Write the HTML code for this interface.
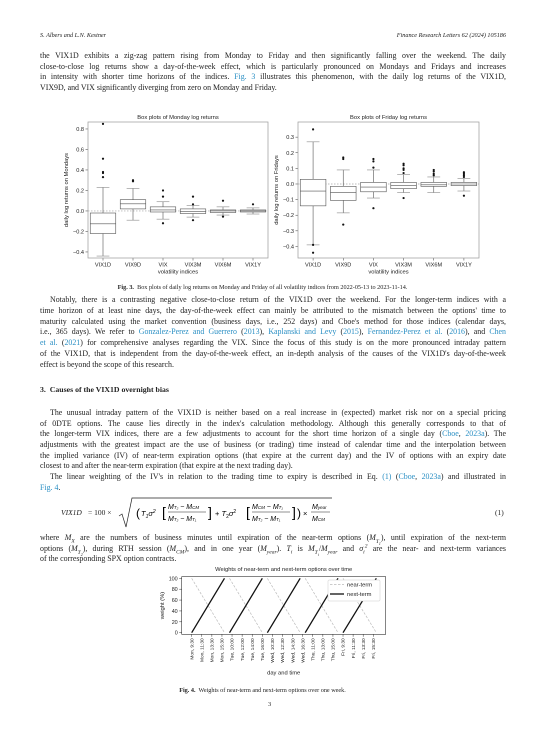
<!DOCTYPE html>
<html><head><meta charset="utf-8">
<style>
html,body{margin:0;padding:0;background:#fff;}
body{width:545px;height:743px;position:relative;overflow:hidden;font-family:"Liberation Serif",serif;color:#222;}
.ln{position:absolute;left:40px;width:466px;font-size:7.9px;line-height:10px;height:10px;white-space:nowrap;}
.j{text-align:justify;text-align-last:justify;white-space:normal;}
.ind{left:50px;width:456px;}
a{color:#2a8fc4;text-decoration:none;}
.hdr{position:absolute;top:32px;font-size:6.2px;font-style:italic;}
.cap{position:absolute;left:0;width:525px;text-align:center;font-size:6.2px;}
.it{font-style:italic;}
sub,sup{font-size:70%;line-height:0;}
svg text{font-family:"Liberation Sans","DejaVu Sans",sans-serif;}
</style></head><body>
<div class="hdr" style="left:40px">S. Albers and L.N. Kestner</div>
<div class="hdr" style="right:39px">Finance Research Letters 62 (2024) 105186</div>

<div>
<div class="ln j" style="top:51px">the VIX1D exhibits a zig-zag pattern rising from Monday to Friday and then significantly falling over the weekend. The daily</div>
<div class="ln j" style="top:62px">close-to-close log returns show a day-of-the-week effect, which is particularly pronounced on Mondays and Fridays and increases</div>
<div class="ln j" style="top:72px">in intensity with shorter time horizons of the indices. <a>Fig. 3</a> illustrates this phenomenon, with the daily log returns of the VIX1D,</div>
<div class="ln" style="top:83px">VIX9D, and VIX significantly diverging from zero on Monday and Friday.</div>
</div>

<svg id="charts" width="545" height="743" style="position:absolute;left:0;top:0"></svg>

<div class="cap" style="top:284px;left:0"><b>Fig. 3.</b>&nbsp; Box plots of daily log returns on Monday and Friday of all volatility indices from 2022-05-13 to 2023-11-14.</div>

<div>
<div class="ln j ind" style="top:295px">Notably, there is a contrasting negative close-to-close return of the VIX1D over the weekend. For the longer-term indices with a</div>
<div class="ln j" style="top:306px">time horizon of at least nine days, the day-of-the-week effect can mainly be attributed to the mismatch between the options' time to</div>
<div class="ln j" style="top:317px">maturity calculated using the market convention (business days, i.e., 252 days) and Cboe's method for those indices (calendar days,</div>
<div class="ln j" style="top:327px">i.e., 365 days). We refer to <a>Gonzalez-Perez and Guerrero</a> (<a>2013</a>), <a>Kaplanski and Levy</a> (<a>2015</a>), <a>Fernandez-Perez et al.</a> (<a>2016</a>), and <a>Chen</a></div>
<div class="ln j" style="top:338px"><a>et al.</a> (<a>2021</a>) for comprehensive analyses regarding the VIX. Since the focus of this study is on the more pronounced intraday pattern</div>
<div class="ln j" style="top:349px">of the VIX1D, that is independent from the day-of-the-week effect, an in-depth analysis of the causes of the VIX1D's day-of-the-week</div>
<div class="ln" style="top:360px">effect is beyond the scope of this research.</div>
</div>

<div class="ln" style="top:385px;font-weight:bold;font-size:7.8px">3.&nbsp; Causes of the VIX1D overnight bias</div>

<div>
<div class="ln j ind" style="top:408px">The unusual intraday pattern of the VIX1D is neither based on a real increase in (expected) market risk nor on a special pricing</div>
<div class="ln j" style="top:419px">of 0DTE options. The cause lies directly in the index's calculation methodology. Although this generally corresponds to that of</div>
<div class="ln j" style="top:429px">the longer-term VIX indices, there are a few adjustments to account for the short time horizon of a single day (<a>Cboe</a>, <a>2023a</a>). The</div>
<div class="ln j" style="top:440px">adjustments with the greatest impact are the use of business (or trading) time instead of calendar time and the interpolation between</div>
<div class="ln j" style="top:451px">the implied variance (IV) of near-term expiration options (that expire at the current day) and the IV of options with an expiry date</div>
<div class="ln" style="top:461px">closest to and after the near-term expiration (that expire at the next trading day).</div>
<div class="ln j ind" style="top:472px">The linear weighting of the IV's in relation to the trading time to expiry is described in Eq. <a>(1)</a> (<a>Cboe</a>, <a>2023a</a>) and illustrated in</div>
<div class="ln" style="top:483px"><a>Fig. 4</a>.</div>
</div>

<div style="position:absolute;left:0;top:496px;width:545px;height:34px;font-size:7.5px;">
  <span class="it" style="position:absolute;left:61px;top:12px">VIX1D</span>
  <span style="position:absolute;left:88px;top:12px">= 100 ×</span>
  <svg style="position:absolute;left:118px;top:0" width="216" height="34">
    <path d="M1 20 L4 18 L8 31 L14 2 L214 2" fill="none" stroke="#222" stroke-width="0.7"/>
    <text x="18" y="21" font-size="12" font-family="Liberation Serif">(</text>
    <text x="23" y="20" font-size="7.5" font-family="Liberation Serif" font-style="italic">T<tspan font-size="5" dy="2">1</tspan><tspan dy="-2">σ</tspan><tspan font-size="5" dy="-3">2</tspan></text>
    <text x="44" y="21" font-size="14" font-family="Liberation Serif">[</text>
    <text x="50" y="13" font-size="7" font-family="Liberation Serif" font-style="italic">M<tspan font-size="4.5">T₂</tspan> − M<tspan font-size="4.5">CM</tspan></text>
    <line x1="50" y1="16" x2="88" y2="16" stroke="#222" stroke-width="0.5"/>
    <text x="50" y="25" font-size="7" font-family="Liberation Serif" font-style="italic">M<tspan font-size="4.5">T₂</tspan> − M<tspan font-size="4.5">T₁</tspan></text>
    <text x="90" y="21" font-size="14" font-family="Liberation Serif">]</text>
    <text x="97" y="20" font-size="7.5" font-family="Liberation Serif">+ <tspan font-style="italic">T</tspan><tspan font-size="5" dy="2">2</tspan><tspan dy="-2" font-style="italic">σ</tspan><tspan font-size="5" dy="-3">2</tspan></text>
    <text x="128" y="21" font-size="14" font-family="Liberation Serif">[</text>
    <text x="134" y="13" font-size="7" font-family="Liberation Serif" font-style="italic">M<tspan font-size="4.5">CM</tspan> − M<tspan font-size="4.5">T₁</tspan></text>
    <line x1="134" y1="16" x2="172" y2="16" stroke="#222" stroke-width="0.5"/>
    <text x="134" y="25" font-size="7" font-family="Liberation Serif" font-style="italic">M<tspan font-size="4.5">T₂</tspan> − M<tspan font-size="4.5">T₁</tspan></text>
    <text x="174" y="21" font-size="14" font-family="Liberation Serif">]</text>
    <text x="179" y="21" font-size="12" font-family="Liberation Serif">)</text>
    <text x="185" y="20" font-size="7.5" font-family="Liberation Serif">×</text>
    <text x="194" y="13" font-size="7" font-family="Liberation Serif" font-style="italic">M<tspan font-size="4.5">year</tspan></text>
    <line x1="193" y1="16" x2="212" y2="16" stroke="#222" stroke-width="0.5"/>
    <text x="194" y="25" font-size="7" font-family="Liberation Serif" font-style="italic">M<tspan font-size="4.5">CM</tspan></text>
  </svg>
  <span style="position:absolute;left:495px;top:12px">(1)</span>
</div>

<div>
<div class="ln j" style="top:533px">where <i>M<sub>X</sub></i> are the numbers of business minutes until expiration of the near-term options (<i>M<sub>T<sub>1</sub></sub></i>), until expiration of the next-term</div>
<div class="ln j" style="top:544px">options (<i>M<sub>T<sub>2</sub></sub></i>), during RTH session (<i>M<sub>CM</sub></i>), and in one year (<i>M<sub>year</sub></i>). <i>T<sub>i</sub></i> is <i>M<sub>T<sub>i</sub></sub></i>/<i>M<sub>year</sub></i> and <i>σ<sub>i</sub><sup>2</sup></i> are the near- and next-term variances</div>
<div class="ln" style="top:554px">of the corresponding SPX option contracts.</div>
</div>

<div class="cap" style="top:687px"><b>Fig. 4.</b>&nbsp; Weights of near-term and next-term options over one week.</div>
<div style="position:absolute;left:268px;top:701px;font-size:6.5px">3</div>

<script>
// ---- Box plot data ----
const categories = ["VIX1D","VIX9D","VIX","VIX3M","VIX6M","VIX1Y"];
const monLow  = [-0.44,-0.09,-0.08,-0.06,-0.04,-0.03];
const monQ1   = [-0.22, 0.02,-0.01,-0.025,-0.015,-0.01];
const monMed  = [-0.125,0.07,0.01,-0.005,0.0,0.0];
const monQ3   = [-0.02, 0.11, 0.04, 0.02, 0.01, 0.01];
const monHigh = [0.23, 0.22, 0.09, 0.055, 0.04, 0.03];
const monOut  = [[0.33,0.37,0.38,0.51,0.85],[0.29,0.30],[0.14,0.20,-0.12],[0.065,0.14,-0.09],[0.10,-0.055],[0.065]];
const monTicks = [-0.4,-0.2,0.0,0.2,0.4,0.6,0.8];

const friLow  = [-0.39,-0.185,-0.09,-0.055,-0.055,-0.045];
const friQ1   = [-0.14,-0.105,-0.05,-0.03,-0.015,-0.01];
const friMed  = [-0.045,-0.055,-0.02,-0.01,-0.005,0.0];
const friQ3   = [0.03,-0.015,0.01,0.01,0.01,0.01];
const friHigh = [0.27,0.09,0.09,0.06,0.045,0.035];
const friOut  = [[0.35,-0.39,-0.44],[0.16,0.17,-0.26],[0.105,0.145,0.16,-0.155],[0.07,0.09,0.10,0.12,0.13,-0.09],[0.055,0.065,0.08,0.09],[0.045,0.055,0.065,0.075,-0.075]];
const friTicks = [-0.4,-0.3,-0.2,-0.1,0.0,0.1,0.2,0.3];

// ---- Weights data ----
const timeLabels = ["Mon, 9:30","Mon, 11:30","Mon, 13:30","Mon, 15:30","Tue, 10:00","Tue, 12:00","Tue, 14:00","Tue, 16:00","Wed, 10:30","Wed, 12:30","Wed, 14:30","Wed, 16:30","Thu, 11:00","Thu, 13:00","Thu, 15:00","Fri, 9:30","Fri, 11:30","Fri, 13:30","Fri, 15:30"];
const dayStart = [0,3.75,7.5,11.25,15.0];
const dayEnd   = [3.25,7.0,10.75,14.5,18.3];
const nearStartW = [100,100,100,100,100];
const nearEndW   = [0,0,0,0,0];
const nextStartW = [0,0,0,0,0];
const nextEndW   = [100,100,100,100,100];
const weightTicks = [0,20,40,60,80,100];

const NS="http://www.w3.org/2000/svg";
const svg=document.getElementById('charts');
function mk(tag,attrs,parent){const e=document.createElementNS(NS,tag);for(const k in attrs)e.setAttribute(k,attrs[k]);(parent||svg).appendChild(e);return e;}
function txt(s,attrs,parent){const e=mk('text',attrs,parent);e.textContent=s;return e;}

function boxChart(o){
  const g=mk('g',{});
  
  
  const L=o.x0,R=o.x1,T=o.y0,B=o.y1;
  const y=v=>B-(v-o.ymin)/(o.ymax-o.ymin)*(B-T);
  const step=(R-L)/categories.length;
  const x=i=>L+step*(i+0.5);
  const bw=step*0.85;
  const zl=mk('line',{x1:L,x2:R,y1:y(0),y2:y(0),stroke:'#bbb','stroke-width':0.9,'stroke-dasharray':'1.5,1.5'},g);
  
  
  o.ticks.forEach(t=>{
    mk('line',{x1:L-2.5,x2:L,y1:y(t),y2:y(t),stroke:'#333','stroke-width':0.5},g);
    const tl=txt((t<0?'\u2212':'')+Math.abs(t).toFixed(1),{x:L-4,y:y(t)+2,'font-size':5.6,'text-anchor':'end',fill:'#222'},g);
    
    
  });
  categories.forEach((c,i)=>{
    const cx=x(i);
    const bg=mk('g',{},g);
    
    
    const st={stroke:'#555','stroke-width':0.6,fill:'none'};
    mk('line',Object.assign({x1:cx,x2:cx,y1:y(o.low[i]),y2:y(o.q1[i])},st),bg);
    mk('line',Object.assign({x1:cx,x2:cx,y1:y(o.q3[i]),y2:y(o.high[i])},st),bg);
    mk('line',Object.assign({x1:cx-bw/4,x2:cx+bw/4,y1:y(o.low[i]),y2:y(o.low[i])},st,{stroke:'#888'}),bg);
    mk('line',Object.assign({x1:cx-bw/4,x2:cx+bw/4,y1:y(o.high[i]),y2:y(o.high[i])},st,{stroke:'#888'}),bg);
    mk('rect',{x:cx-bw/2,y:y(o.q3[i]),width:bw,height:Math.max(0.5,y(o.q1[i])-y(o.q3[i])),fill:'#fff',stroke:'#555','stroke-width':0.6},bg);
    mk('line',Object.assign({x1:cx-bw/2,x2:cx+bw/2,y1:y(o.med[i]),y2:y(o.med[i])},st),bg);
    o.out[i].forEach(v=>mk('circle',{cx:cx,cy:y(v),r:1.1,fill:'#111'},bg));
    mk('line',{x1:cx,x2:cx,y1:B,y2:B+2.5,stroke:'#333','stroke-width':0.5},g);
    const xl=txt(c,{x:cx,y:B+8.5,'font-size':5.6,'text-anchor':'middle',fill:'#222'},g);
    
    
  });
  const fr=mk('rect',{x:L,y:T,width:R-L,height:B-T,fill:'none',stroke:'#999','stroke-width':0.7},g);
  
  
  const tt=txt(o.title,{x:(L+R)/2,y:T-3,'font-size':5.8,'text-anchor':'middle',fill:'#222'},g);
  
  
  const xt=txt('volatility indices',{x:(L+R)/2,y:B+15.5,'font-size':5.8,'text-anchor':'middle',fill:'#222'},g);
  
  
  const yt=txt(o.ylabel,{x:0,y:0,'font-size':5.8,'text-anchor':'middle',fill:'#222',transform:`translate(${o.ylx},${(T+B)/2}) rotate(-90)`},g);
  
  
}
boxChart({name:'monday-boxplot',x0:88,x1:268,y0:122,y1:258,ymin:-0.459,ymax:0.868,ticks:monTicks,low:monLow,q1:monQ1,med:monMed,q3:monQ3,high:monHigh,out:monOut,title:'Box plots of Monday log returns',ylabel:'daily log returns on Mondays',ylx:68});
boxChart({name:'friday-boxplot',x0:298,x1:479,y0:122,y1:258,ymin:-0.474,ymax:0.397,ticks:friTicks,low:friLow,q1:friQ1,med:friMed,q3:friQ3,high:friHigh,out:friOut,title:'Box plots of Friday log returns',ylabel:'daily log returns on Fridays',ylx:278});

// ---- Weights chart ----
(function(){
  const g=mk('g',{});
  
  
  const L=181.7,R=385.7,T=576.7,B=634.3;
  const xmin=-0.99,xmax=19.23,ymin=-3.0,ymax=103.0;
  const x=v=>L+(v-xmin)/(xmax-xmin)*(R-L);
  const y=v=>B-(v-ymin)/(ymax-ymin)*(B-T);
  weightTicks.forEach(t=>{
    mk('line',{x1:L-2.5,x2:L,y1:y(t),y2:y(t),stroke:'#333','stroke-width':0.5},g);
    const tl=txt(String(t),{x:L-4,y:y(t)+2,'font-size':5.4,'text-anchor':'end',fill:'#222'},g);
    
    
  });
  timeLabels.forEach((s,i)=>{
    mk('line',{x1:x(i),x2:x(i),y1:B,y2:B+2.5,stroke:'#333','stroke-width':0.5},g);
    const tl=txt(s,{x:0,y:0,'font-size':4.8,'text-anchor':'end',fill:'#222',transform:`translate(${x(i)+1.7},${B+4}) rotate(-90)`},g);
    
    
  });
  dayStart.forEach((d,i)=>{
    const n=mk('line',{x1:x(d),y1:y(nearStartW[i]),x2:x(dayEnd[i]),y2:y(nearEndW[i]),stroke:'#bbb','stroke-width':0.7,'stroke-dasharray':'2.5,1.5'},g);
    
    
    const m=mk('line',{x1:x(d),y1:y(nextStartW[i]),x2:x(dayEnd[i]),y2:y(nextEndW[i]),stroke:'#111','stroke-width':1.3},g);
    
    
  });
  mk('rect',{x:L,y:T,width:R-L,height:B-T,fill:'none',stroke:'#333','stroke-width':0.6},g);
  const lg=mk('g',{},g);
  
  
  mk('rect',{x:328,y:580,width:52,height:21,fill:'#fff',stroke:'#ccc','stroke-width':0.5,rx:1},lg);
  mk('line',{x1:330,x2:344,y1:584.5,y2:584.5,stroke:'#bbb','stroke-width':0.7,'stroke-dasharray':'2.5,1.5'},lg);
  txt('near-term',{x:347,y:586.5,'font-size':5.8,fill:'#222'},lg);
  mk('line',{x1:330,x2:344,y1:594,y2:594,stroke:'#111','stroke-width':1.3},lg);
  txt('next-term',{x:347,y:596,'font-size':5.8,fill:'#222'},lg);
  const tt=txt('Weights of near-term and next-term options over time',{x:(L+R)/2,y:T-5.5,'font-size':5.8,'text-anchor':'middle',fill:'#222'},g);
  
  
  const xt=txt('day and time',{x:(L+R)/2,y:674.5,'font-size':5.8,'text-anchor':'middle',fill:'#222'},g);
  
  
  const yt=txt('weight (%)',{x:0,y:0,'font-size':5.8,'text-anchor':'middle',fill:'#222',transform:`translate(164,${(T+B)/2}) rotate(-90)`},g);
  
  
})();
</script>
</body></html>
